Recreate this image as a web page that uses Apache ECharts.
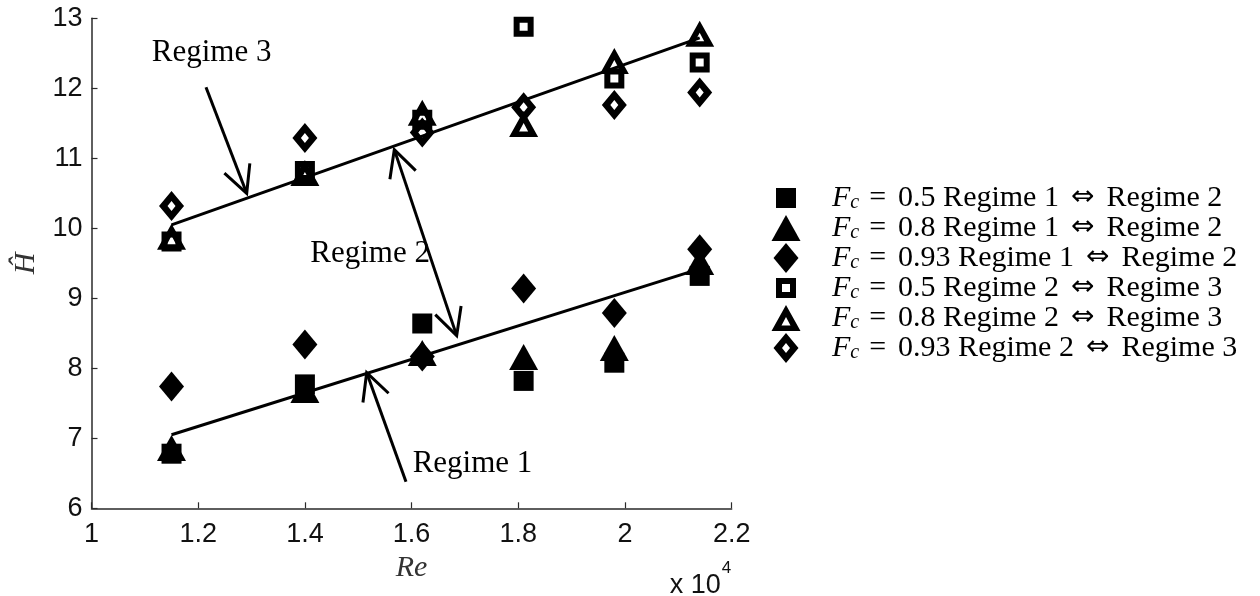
<!DOCTYPE html>
<html><head><meta charset="utf-8">
<script src="https://cdn.jsdelivr.net/npm/echarts@6.0.0/dist/echarts.min.js"></script>
<style>html,body{margin:0;padding:0;background:#fff}#c{width:1260px;height:596px}</style>
</head><body><div id="c"></div>
<script>
// ---------------- data ----------------
const re = [1.15, 1.40, 1.62, 1.81, 1.98, 2.14];           // Re (x 10^4)
const r12_f050 = [6.78, 7.77, 8.64, 7.82, 8.08, 9.32];      // Fc=0.5  Regime 1 <-> 2
const r12_f080 = [6.86, 7.69, 8.22, 8.16, 8.29, 9.52];      // Fc=0.8  Regime 1 <-> 2
const r12_f093 = [7.74, 8.34, 8.17, 9.14, 8.79, 9.70];      // Fc=0.93 Regime 1 <-> 2
const r23_f050 = [9.81, 10.82, 11.55, 12.88, 12.14, 12.37]; // Fc=0.5  Regime 2 <-> 3
const r23_f080 = [9.88, 10.79, 11.65, 11.49, 12.39, 12.78]; // Fc=0.8  Regime 2 <-> 3
const r23_f093 = [10.32, 11.29, 11.37, 11.73, 11.76, 11.94];// Fc=0.93 Regime 2 <-> 3
const fitRe = [1.15, 2.14];
const fit12 = [7.05, 9.42];
const fit23 = [10.05, 12.72];
const seriesNames = [
  'F_c = 0.5 Regime 1 ⇔ Regime 2',
  'F_c = 0.8 Regime 1 ⇔ Regime 2',
  'F_c = 0.93 Regime 1 ⇔ Regime 2',
  'F_c = 0.5 Regime 2 ⇔ Regime 3',
  'F_c = 0.8 Regime 2 ⇔ Regime 3',
  'F_c = 0.93 Regime 2 ⇔ Regime 3'
];
const xName = 'Re', yName = 'Ĥ', xExponent = '4';
// annotations (data coordinates)
const annotTexts = [
  {text: 'Regime 3', re: 1.113, h: 12.51},
  {text: 'Regime 2', re: 1.410, h: 9.633},
  {text: 'Regime 1', re: 1.602, h: 6.633}
];
const annotArrows = [
  {from: [1.2146, 12.014], to: [1.2909, 10.50], both: false},
  {from: [1.5676, 11.124], to: [1.6845, 8.467], both: true},
  {from: [1.5895, 6.380], to: [1.5158, 7.937], both: false}
];
// ---------------- marker shapes (30x30 box) ----------------
const BOX = 'M0,0M30,30';
const SYM = {
  sqF: 'path://' + BOX + 'M5,5L25,5L25,25L5,25Z',
  triF: 'path://' + BOX + 'M15,2L29.5,28L0.5,28Z',
  diaF: 'path://' + BOX + 'M15,0L27.5,15L15,30L2.5,15Z',
  sqO: 'path://' + BOX + 'M5,5L25,5L25,25L5,25ZM11,11L11,19L19,19L19,11Z',
  triO: 'path://' + BOX + 'M15,2L29.5,28L0.5,28ZM15,14L10.5,22.5L19.5,22.5Z',
  diaO: 'path://' + BOX + 'M15,0L27.5,15L15,30L2.5,15ZM15,10L11,15L15,20L19,15Z'
};
const zip = (xs, ys) => xs.map((x, i) => [x, ys[i]]);
const scat = (name, ys, sym) => ({
  name, type: 'scatter', data: zip(re, ys), symbol: sym, symbolSize: 30,
  itemStyle: {color: '#000', opacity: 1}, z: 3, emphasis: {disabled: true}
});
const fitLine = (ys) => ({
  type: 'line', data: zip(fitRe, ys), symbol: 'none', z: 2,
  lineStyle: {color: '#000', width: 3}, silent: true
});

const chart = echarts.init(document.getElementById('c'), null, {renderer: 'canvas'});
const axisCol = '#2a2a2a';
chart.setOption({
  animation: false,
  backgroundColor: '#fff',
  grid: {left: 91.5, right: 528.3, top: 18.3, bottom: 87.7, outerBoundsMode: 'none', containLabel: false},
  xAxis: {
    type: 'value', min: 1, max: 2.2, interval: 0.2,
    name: xName, nameLocation: 'middle', nameGap: 43,
    nameTextStyle: {fontFamily: 'Liberation Serif', fontStyle: 'italic', fontSize: 30, color: '#333'},
    axisLine: {show: true, onZero: false, lineStyle: {color: axisCol, width: 1.5}},
    axisTick: {show: true, inside: true, length: 6, lineStyle: {color: axisCol, width: 1.2}},
    axisLabel: {fontFamily: 'Liberation Sans', fontSize: 27, color: '#111', margin: 13},
    splitLine: {show: false}
  },
  yAxis: {
    type: 'value', min: 6, max: 13, interval: 1,
    name: yName, nameLocation: 'middle', nameGap: 46, nameRotate: 90,
    nameTextStyle: {fontFamily: 'Liberation Serif', fontStyle: 'italic', fontSize: 30, color: '#333'},
    axisLine: {show: true, onZero: false, lineStyle: {color: axisCol, width: 1.5}},
    axisTick: {show: true, inside: true, length: 6, lineStyle: {color: axisCol, width: 1.2}},
    axisLabel: {fontFamily: 'Liberation Sans', fontSize: 27, color: '#111', margin: 9},
    splitLine: {show: false}
  },
  legend: {
    orient: 'vertical', left: 771, top: 183, itemWidth: 82, itemHeight: 30, itemGap: 0,
    padding: 0, selectedMode: false, data: seriesNames,
    formatter: (n) => n.replace('F_c = ', '{i|F}{s|c}{e|=}').replace(' ⇔ ', '{a|⇔}'),
    textStyle: {
      fontFamily: 'Liberation Serif', fontSize: 30, lineHeight: 30, color: '#000',
      rich: {
        i: {fontFamily: 'Liberation Serif', fontStyle: 'italic', fontSize: 30, lineHeight: 30, color: '#000'},
        s: {fontFamily: 'Liberation Serif', fontStyle: 'italic', fontSize: 20, lineHeight: 16, verticalAlign: 'bottom', color: '#000'},
        e: {fontFamily: 'Liberation Serif', fontSize: 30, lineHeight: 30, color: '#000', padding: [0, 12, 0, 10]},
        a: {fontFamily: 'DejaVu Sans', fontSize: 28, lineHeight: 30, color: '#000', padding: [0, 12, 0, 12]}
      }
    }
  },
  series: [
    fitLine(fit12), fitLine(fit23),
    scat(seriesNames[0], r12_f050, SYM.sqF),
    scat(seriesNames[1], r12_f080, SYM.triF),
    scat(seriesNames[2], r12_f093, SYM.diaF),
    scat(seriesNames[3], r23_f050, SYM.sqO),
    scat(seriesNames[4], r23_f080, SYM.triO),
    scat(seriesNames[5], r23_f093, SYM.diaO)
  ]
});

// ---------------- annotations via the chart's own scales ----------------
const px = (p) => chart.convertToPixel({gridIndex: 0}, p);
const L = 30, TH = 27 * Math.PI / 180;
function headPts(H, T) {
  const dx = T[0] - H[0], dy = T[1] - H[1], d = Math.hypot(dx, dy);
  const ux = dx / d, uy = dy / d;
  const rot = (a) => [H[0] + L * (ux * Math.cos(a) - uy * Math.sin(a)), H[1] + L * (ux * Math.sin(a) + uy * Math.cos(a))];
  return [rot(TH), H, rot(-TH)];
}
const g = [];
annotArrows.forEach(a => {
  const T = px(a.from), H = px(a.to);
  g.push({type: 'line', shape: {x1: T[0], y1: T[1], x2: H[0], y2: H[1]}, style: {stroke: '#000', lineWidth: 3}, z: 10});
  g.push({type: 'polyline', shape: {points: headPts(H, T)}, style: {stroke: '#000', lineWidth: 3, fill: null}, z: 10});
  if (a.both) g.push({type: 'polyline', shape: {points: headPts(T, H)}, style: {stroke: '#000', lineWidth: 3, fill: null}, z: 10});
});
annotTexts.forEach(t => {
  const p = px([t.re, t.h]);
  g.push({type: 'text', x: p[0], y: p[1], z: 11,
    style: {text: t.text, fontFamily: 'Liberation Serif', fontSize: 31, fill: '#000', align: 'left', verticalAlign: 'middle'}});
});
// "x 10^4" exponent label anchored to the end of the x axis
const ax = px([2.2, 6]);
g.push({type: 'text', x: ax[0] - 11, y: ax[1] + 77, z: 11,
  style: {text: 'x 10', fontFamily: 'Liberation Sans', fontSize: 27, fill: '#111', align: 'right', verticalAlign: 'middle'}});
g.push({type: 'text', x: ax[0] - 10, y: ax[1] + 60, z: 11,
  style: {text: xExponent, fontFamily: 'Liberation Sans', fontSize: 17, fill: '#111', align: 'left', verticalAlign: 'middle'}});
chart.setOption({graphic: g});
</script>
</body></html>
